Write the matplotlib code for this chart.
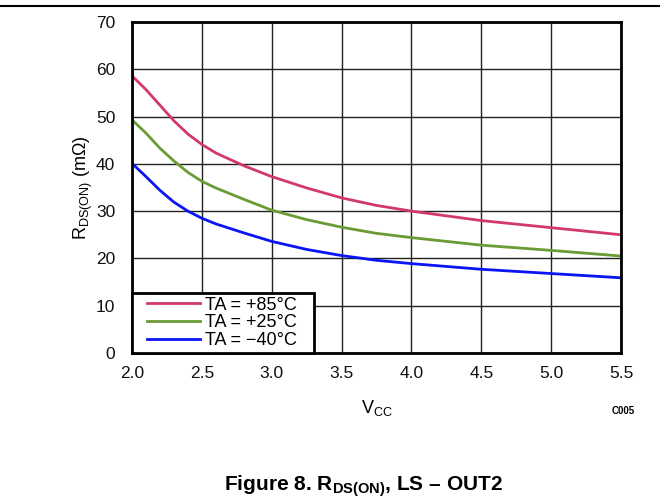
import matplotlib
matplotlib.use('Agg')
import matplotlib.pyplot as plt
import numpy as np
from matplotlib.lines import Line2D
from matplotlib.legend_handler import HandlerLine2D

plt.rcParams['font.family'] = ['Liberation Sans', 'DejaVu Sans']
plt.rcParams['mathtext.fontset'] = 'custom'
plt.rcParams['mathtext.rm'] = 'Liberation Sans'
plt.rcParams['mathtext.it'] = 'Liberation Sans'
plt.rcParams['mathtext.bf'] = 'Liberation Sans:bold'

vcc = [2.0, 2.1, 2.2, 2.3, 2.4, 2.5, 2.6, 2.8, 3.0, 3.25, 3.5, 3.75, 4.0, 4.5, 5.0, 5.5]
r_85 = [58.6, 55.7, 52.4, 49.1, 46.3, 44.1, 42.3, 39.6, 37.3, 34.9, 32.8, 31.2, 30.0, 28.0, 26.5, 25.0]
r_25 = [49.3, 46.5, 43.3, 40.6, 38.2, 36.3, 34.9, 32.5, 30.2, 28.2, 26.6, 25.3, 24.4, 22.8, 21.7, 20.5]
r_m40 = [40.1, 37.3, 34.4, 31.9, 30.0, 28.5, 27.3, 25.4, 23.6, 21.9, 20.6, 19.6, 18.9, 17.7, 16.8, 15.9]
labels = ['TA = +85°C', 'TA = +25°C', 'TA = \u221240°C']
colors = ['#D2386A', '#6A9B34', '#0A14F5']

fig = plt.figure(figsize=(6.69, 4.99), dpi=100)
ax = fig.add_axes([0.1973, 0.2926, 0.7310, 0.6634])

for y, lab, c in zip([r_85, r_25, r_m40], labels, colors):
    ax.plot(vcc, y, color=c, lw=2.0, label=lab, solid_joinstyle='round')

ax.set_xlim(2.0, 5.5)
ax.set_ylim(0, 70)
xt = np.arange(2.0, 5.51, 0.5)
ax.set_xticks(xt)
ax.set_yticks(np.arange(0, 71, 10))
ax.set_xticklabels(['%.1f' % v for v in xt])
ax.grid(True, color='#222222', lw=1.0)
ax.set_axisbelow(True)
ax.tick_params(length=0, labelsize=12.5, colors='#111111')
ax.tick_params(axis='x', pad=9.5)
ax.tick_params(axis='y', pad=12)
for s in ax.spines.values():
    s.set_linewidth(2.0)
    s.set_color('black')

ax.set_xlabel(r'V$_{\mathrm{CC}}$', fontsize=13)
ax.set_ylabel(r'R$_{\mathrm{DS(ON)}}$ (m$\Omega$)', fontsize=13)
ax.xaxis.set_label_coords(0.5, -0.135)
ax.yaxis.set_label_coords(-0.075, 0.5)

# legend box spans 2.0 .. ~3.3 on the x axis
leg = ax.legend(loc='lower left', bbox_to_anchor=(0, 0, 0.372, 0.2), mode='expand',
                borderaxespad=0, fontsize=13, handlelength=3.55,
                handler_map={Line2D: HandlerLine2D(xpad=0.65)},
                fancybox=False, framealpha=1, edgecolor='black',
                borderpad=0.2, labelspacing=0.05, handletextpad=0.3)
leg.get_frame().set_linewidth(2.0)

fig.text(0.931, 0.176, 'C005', fontsize=7, fontweight='bold', ha='center', va='center')
fig.text(0.543, 0.016, 'Figure 8. R$_{\\mathbf{DS(ON)}}$, LS \u2013 OUT2',
         fontsize=15, fontweight='bold', ha='center', va='baseline')

fig.add_artist(Line2D([0.0, 0.985], [0.988, 0.988], color='black', lw=1.5,
                      transform=fig.transFigure))

fig.savefig('out.png', dpi=100)
